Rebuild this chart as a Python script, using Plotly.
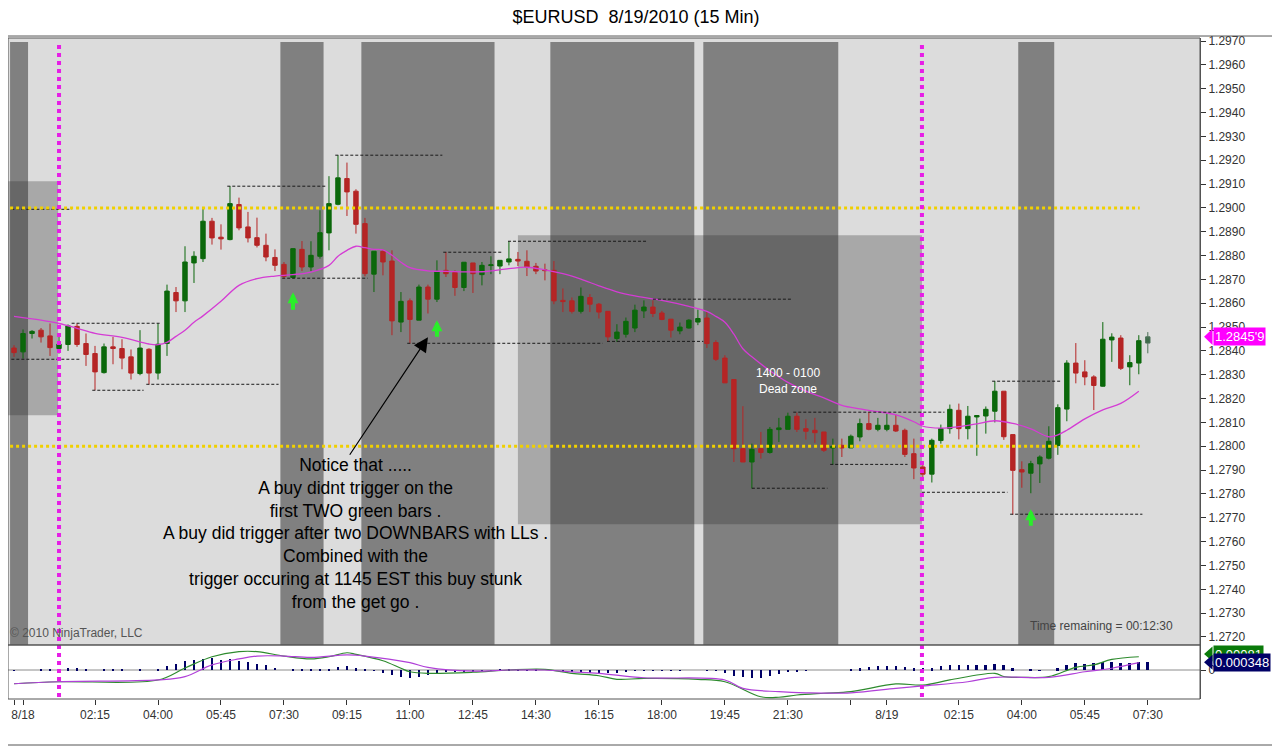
import plotly.graph_objects as go

FONT = "Liberation Sans, Arial, sans-serif"

# 15 min bars, 8/18 00:00 -> 8/19 07:30
opens = [1.28412, 1.28396, 1.28473, 1.28487, 1.28463, 1.28410, 1.28427, 1.28503, 1.28431, 1.28389,
         1.28309, 1.28417, 1.28410, 1.28375, 1.28305, 1.28407, 1.28307, 1.28431, 1.28645, 1.28610,
         1.28769, 1.28787, 1.28944, 1.28877, 1.28867, 1.29014, 1.28920, 1.28875, 1.28843, 1.28792,
         1.28763, 1.28708, 1.28826, 1.28752, 1.28797, 1.28895, 1.29015, 1.29123, 1.29070, 1.28934,
         1.28722, 1.28818, 1.28777, 1.28521, 1.28610, 1.28529, 1.28668, 1.28617, 1.28738, 1.28729,
         1.28666, 1.28769, 1.28720, 1.28758, 1.28756, 1.28773, 1.28784, 1.28776, 1.28755, 1.28740,
         1.28738, 1.28612, 1.28610, 1.28566, 1.28624, 1.28596, 1.28566, 1.28452, 1.28470, 1.28496,
         1.28568, 1.28584, 1.28559, 1.28533, 1.28484, 1.28496, 1.28521, 1.28538, 1.28435, 1.28370,
         1.28280, 1.27990, 1.27934, 1.27990, 1.27974, 1.28070, 1.28071, 1.28126, 1.28074, 1.28067,
         1.28060, 1.27993, 1.28004, 1.27993, 1.28039, 1.28095, 1.28071, 1.28071, 1.28088, 1.28067,
         1.27969, 1.27913, 1.27883, 1.28024, 1.28074, 1.28151, 1.28074, 1.28123, 1.28127, 1.28147,
         1.28231, 1.28049, 1.27902, 1.27887, 1.27926, 1.27950, 1.28003, 1.28156, 1.28349, 1.28312,
         1.28291, 1.28252, 1.28446, 1.28454, 1.28333, 1.28349, 1.28433]
highs = [1.28424, 1.28490, 1.28487, 1.28496, 1.28515, 1.28459, 1.28511, 1.28515, 1.28473, 1.28421,
         1.28431, 1.28459, 1.28449, 1.28406, 1.28487, 1.28411, 1.28515, 1.28678, 1.28668, 1.28839,
         1.28818, 1.29004, 1.28958, 1.28931, 1.29091, 1.29043, 1.28983, 1.28959, 1.28892, 1.28826,
         1.28773, 1.28831, 1.28861, 1.28860, 1.28990, 1.29133, 1.29221, 1.29190, 1.29078, 1.28958,
         1.28818, 1.28825, 1.28822, 1.28647, 1.28620, 1.28678, 1.28678, 1.28780, 1.28815, 1.28738,
         1.28772, 1.28769, 1.28773, 1.28797, 1.28780, 1.28860, 1.28815, 1.28822, 1.28769, 1.28766,
         1.28777, 1.28662, 1.28624, 1.28666, 1.28638, 1.28601, 1.28566, 1.28512, 1.28540, 1.28594,
         1.28612, 1.28612, 1.28568, 1.28533, 1.28519, 1.28533, 1.28573, 1.28563, 1.28445, 1.28382,
         1.28280, 1.28168, 1.28011, 1.28060, 1.28081, 1.28119, 1.28141, 1.28141, 1.28113, 1.28119,
         1.28060, 1.28032, 1.28032, 1.28049, 1.28116, 1.28144, 1.28119, 1.28137, 1.28133, 1.28074,
         1.28032, 1.27933, 1.28032, 1.28091, 1.28175, 1.28179, 1.28169, 1.28130, 1.28167, 1.28273,
         1.28231, 1.28049, 1.27937, 1.27939, 1.27962, 1.28084, 1.28176, 1.28361, 1.28433, 1.28361,
         1.28298, 1.28521, 1.28474, 1.28466, 1.28382, 1.28466, 1.28479]
lows = [1.28375, 1.28368, 1.28452, 1.28435, 1.28379, 1.28389, 1.28400, 1.28417, 1.28337, 1.28235,
        1.28305, 1.28344, 1.28323, 1.28280, 1.28298, 1.28259, 1.28280, 1.28379, 1.28563, 1.28563,
        1.28685, 1.28773, 1.28846, 1.28825, 1.28864, 1.28906, 1.28855, 1.28834, 1.28776, 1.28735,
        1.28704, 1.28704, 1.28735, 1.28735, 1.28787, 1.28822, 1.29011, 1.28966, 1.28892, 1.28713,
        1.28647, 1.28717, 1.28466, 1.28479, 1.28431, 1.28529, 1.28557, 1.28605, 1.28710, 1.28631,
        1.28651, 1.28643, 1.28675, 1.28722, 1.28722, 1.28759, 1.28756, 1.28714, 1.28722, 1.28696,
        1.28596, 1.28563, 1.28557, 1.28557, 1.28563, 1.28536, 1.28438, 1.28438, 1.28456, 1.28479,
        1.28538, 1.28542, 1.28529, 1.28456, 1.28470, 1.28494, 1.28508, 1.28412, 1.28358, 1.28266,
        1.27934, 1.27934, 1.27823, 1.27948, 1.27969, 1.28018, 1.28071, 1.28060, 1.28028, 1.28014,
        1.27976, 1.27923, 1.27955, 1.27993, 1.28021, 1.28067, 1.28063, 1.28063, 1.28060, 1.27955,
        1.27862, 1.27857, 1.27848, 1.28011, 1.28053, 1.28029, 1.28029, 1.27960, 1.28053, 1.28100,
        1.28027, 1.27713, 1.27826, 1.27803, 1.27846, 1.27945, 1.27964, 1.28105, 1.28264, 1.28256,
        1.28152, 1.28250, 1.28354, 1.28320, 1.28256, 1.28302, 1.28390]
closes = [1.28393, 1.28473, 1.28482, 1.28459, 1.28414, 1.28428, 1.28505, 1.28427, 1.28385, 1.28312,
          1.28417, 1.28410, 1.28370, 1.28307, 1.28412, 1.28307, 1.28428, 1.28651, 1.28610, 1.28773,
          1.28797, 1.28944, 1.28874, 1.28870, 1.29018, 1.28916, 1.28874, 1.28843, 1.28794, 1.28759,
          1.28713, 1.28829, 1.28752, 1.28801, 1.28896, 1.29018, 1.29126, 1.29067, 1.28931, 1.28724,
          1.28818, 1.28773, 1.28526, 1.28608, 1.28532, 1.28668, 1.28617, 1.28734, 1.28724, 1.28666,
          1.28772, 1.28724, 1.28759, 1.28761, 1.28780, 1.28786, 1.28777, 1.28752, 1.28735, 1.28737,
          1.28610, 1.28607, 1.28566, 1.28629, 1.28596, 1.28563, 1.28459, 1.28479, 1.28524, 1.28571,
          1.28584, 1.28557, 1.28532, 1.28487, 1.28500, 1.28529, 1.28536, 1.28431, 1.28365, 1.28266,
          1.27990, 1.27934, 1.27987, 1.27974, 1.28071, 1.28077, 1.28126, 1.28071, 1.28063, 1.28057,
          1.27983, 1.28000, 1.27993, 1.28042, 1.28095, 1.28071, 1.28088, 1.28088, 1.28064, 1.27966,
          1.27909, 1.27883, 1.28025, 1.28074, 1.28155, 1.28074, 1.28126, 1.28129, 1.28155, 1.28231,
          1.28040, 1.27899, 1.27892, 1.27927, 1.27955, 1.28021, 1.28162, 1.28349, 1.28307, 1.28291,
          1.28255, 1.28449, 1.28458, 1.28327, 1.28351, 1.28443, 1.28459]
bars = list(range(len(closes)))

# moving average
ema_bar = [0, 3, 5, 7, 9, 12, 15, 16, 17, 18, 19, 20, 21, 23, 25, 27, 29, 31, 33, 35, 36, 37, 38, 39, 40,
           41, 42, 43, 44, 46, 48, 52, 55, 57, 59, 61, 63, 65, 67, 69, 72, 75, 77, 78, 79, 80, 81, 82, 84,
           86, 88, 90, 92, 94, 96, 98, 100, 101, 103, 105, 107, 109, 111, 113, 115, 116, 117, 119, 121,
           123, 125]
ema_val = [1.28545, 1.28529, 1.28515, 1.28495, 1.28474, 1.28457, 1.28429, 1.28426, 1.28436, 1.28461,
           1.28487, 1.28520, 1.28547, 1.28608, 1.28675, 1.28703, 1.28714, 1.28720, 1.28731, 1.28759,
           1.28797, 1.28822, 1.28839, 1.28833, 1.28826, 1.28824, 1.28801, 1.28772, 1.28749, 1.28736,
           1.28734, 1.28732, 1.28745, 1.28751, 1.28740, 1.28724, 1.28701, 1.28673, 1.28648, 1.28631,
           1.28612, 1.28587, 1.28566, 1.28545, 1.28520, 1.28470, 1.28409, 1.28375, 1.28317, 1.28268,
           1.28231, 1.28203, 1.28172, 1.28157, 1.28145, 1.28132, 1.28103, 1.28084, 1.28076, 1.28082,
           1.28094, 1.28107, 1.28096, 1.28073, 1.28040, 1.28048, 1.28067, 1.28115, 1.28153, 1.28180,
           1.28231]

# MACD panel
macd_bar = [0, 5, 16, 19, 22, 25, 27, 30, 33, 35, 37, 38, 41, 43, 44, 46, 51, 55, 59, 62, 65, 67, 70, 76,
            79, 83, 85, 87, 90, 93, 98, 101, 104, 109, 110, 112, 115, 118, 120, 122, 125]
macd_val = [-0.00062, -0.00053, -0.00045, 0.00009, 0.00060, 0.00083, 0.00083, 0.00063, 0.00050, 0.00060,
            0.00078, 0.00071, 0.00042, 0.00008, -0.00008, -0.00015, -0.00010, 0.00000, 0.00003, -0.00015,
            -0.00026, -0.00042, -0.00038, -0.00042, -0.00053, -0.00121, -0.00123, -0.00113, -0.00105,
            -0.00098, -0.00063, -0.00068, -0.00045, -0.00015, -0.00030, -0.00033, -0.00030, 0.00012,
            0.00023, 0.00048, 0.00060]
sig_bar = [0, 5, 16, 19, 22, 25, 27, 30, 33, 37, 39, 44, 46, 51, 55, 59, 62, 65, 70, 79, 81, 85, 88, 93,
           98, 101, 106, 109, 115, 119, 122, 125]
sig_val = [-0.00062, -0.00053, -0.00045, -0.00030, 0.00023, 0.00050, 0.00063, 0.00063, 0.00057, 0.00068,
           0.00063, 0.00033, 0.00012, -0.00005, 0.00000, 0.00000, -0.00008, -0.00015, -0.00035, -0.00045,
           -0.00083, -0.00098, -0.00103, -0.00103, -0.00083, -0.00072, -0.00053, -0.00033, -0.00033,
           -0.00008, 0.00008, 0.00033]
hist_val = [-0.00003, 0.00000, 0.00000, 0.00001, 0.00001, 0.00005, 0.00008, 0.00008, 0.00005, 0.00000,
            0.00001, 0.00001, 0.00001, 0.00000, 0.00001, 0.00000, 0.00005, 0.00019, 0.00029, 0.00039,
            0.00044, 0.00051, 0.00054, 0.00047, 0.00051, 0.00039, 0.00036, 0.00029, 0.00021, 0.00010,
            0.00000, 0.00002, 0.00002, 0.00003, 0.00003, 0.00005, 0.00014, 0.00017, 0.00009, 0.00003,
            -0.00001, -0.00014, -0.00024, -0.00032, -0.00036, -0.00032, -0.00021, -0.00017, -0.00010, -0.00008,
            -0.00006, -0.00005, -0.00003, -0.00001, 0.00001, 0.00001, 0.00001, 0.00001, 0.00001, 0.00000,
            0.00000, -0.00008, -0.00010, -0.00010, -0.00014, -0.00014, -0.00014, -0.00014, -0.00010, -0.00001,
            -0.00001, -0.00001, -0.00001, -0.00001, -0.00001, 0.00000, 0.00000, -0.00001, -0.00001, -0.00014,
            -0.00029, -0.00033, -0.00038, -0.00035, -0.00026, -0.00017, -0.00010, -0.00006, -0.00001, 0.00000,
            0.00000, 0.00000, 0.00000, 0.00005, 0.00009, 0.00014, 0.00017, 0.00019, 0.00017, 0.00014,
            0.00009, 0.00008, 0.00009, 0.00017, 0.00023, 0.00023, 0.00023, 0.00023, 0.00023, 0.00027,
            0.00023, 0.00009, 0.00000, 0.00001, -0.00001, 0.00000, 0.00009, 0.00024, 0.00032, 0.00029,
            0.00032, 0.00038, 0.00035, 0.00032, 0.00032, 0.00035, 0.00035]

# time axis
tick_bars = [0, 1, 9, 16, 23, 30, 37, 44, 51, 58, 65, 72, 79, 86, 93, 97, 105, 112, 119, 126]
tick_text = ["", "8/18", "02:15", "04:00", "05:45", "07:30", "09:15", "11:00", "12:45", "14:30",
             "16:15", "18:00", "19:45", "21:30", "", "8/19", "02:15", "04:00", "05:45", "07:30"]

# drawing objects
band_from = [-0.44, 29.6, 38.6, 59.6, 76.6, 111.6]
band_to = [1.56, 34.4, 53.4, 75.6, 91.6, 115.6]
zone_x0 = [56.0, -0.67]
zone_x1 = [100.9, 4.9]
zone_lo = [1.27673, 1.28130]
zone_hi = [1.28885, 1.29112]
dash_level = [1.28365, 1.28994, 1.28516, 1.28235, 1.28260, 1.29091, 1.28705, 1.29221, 1.28432, 1.28814,
              1.28860, 1.28617, 1.28440, 1.27824, 1.28143, 1.27924, 1.27807, 1.28273, 1.27715]
dash_from = [-0.3, -0.3, 6.4, 8.7, 14.7, 23.7, 29.8, 35.7, 43.7, 47.7, 54.9, 71.0, 65.9, 82.0, 86.6, 90.7,
             100.9, 108.7, 110.7]
dash_to = [7.4, 6.4, 16.4, 14.4, 29.4, 34.6, 39.3, 47.6, 65.4, 54.3, 70.4, 86.4, 76.6, 90.4, 103.4, 99.3,
           110.4, 116.4, 125.4]
key_levels = [1.2900, 1.2800]
session_bars = [5.0, 100.9]
arrow_bars = [31, 47, 113]
arrow_tip = [1.28646, 1.28529, 1.27736]
arrow_tail = [1.28566, 1.28453, 1.27660]

GREEN = "#0b680b"
RED = "#b52525"

fig = go.Figure()

fig.add_trace(go.Candlestick(
    x=bars[:-1], open=opens[:-1], high=highs[:-1], low=lows[:-1], close=closes[:-1],
    increasing=dict(line=dict(color=GREEN, width=1), fillcolor=GREEN),
    decreasing=dict(line=dict(color=RED, width=1), fillcolor=RED),
    whiskerwidth=0, showlegend=False, hoverinfo="skip"))
fig.add_trace(go.Candlestick(
    x=bars[-1:], open=opens[-1:], high=highs[-1:], low=lows[-1:], close=closes[-1:],
    increasing=dict(line=dict(color="#4d7258", width=1), fillcolor="#3d6b48"),
    decreasing=dict(line=dict(color="#4d7258", width=1), fillcolor="#3d6b48"),
    whiskerwidth=0, showlegend=False, hoverinfo="skip"))
fig.add_trace(go.Scatter(x=ema_bar, y=ema_val, mode="lines", line=dict(color="#d43cd4", width=1.3, shape="spline"),
                         showlegend=False, hoverinfo="skip"))

# indicator
fig.add_trace(go.Bar(x=bars, y=hist_val, width=0.3, marker=dict(color="#000066", line=dict(width=0)),
                     yaxis="y2", showlegend=False, hoverinfo="skip"))
fig.add_trace(go.Scatter(x=macd_bar, y=macd_val, mode="lines", line=dict(color="#2e8b2e", width=1.2, shape="spline"),
                         yaxis="y2", showlegend=False, hoverinfo="skip"))
fig.add_trace(go.Scatter(x=sig_bar, y=sig_val, mode="lines", line=dict(color="#b040d8", width=1.2, shape="spline"),
                         yaxis="y2", showlegend=False, hoverinfo="skip"))

shapes = []
shapes.append(dict(type="rect", xref="x domain", yref="y domain", x0=0, x1=1, y0=0, y1=1,
                   fillcolor="#dcdcdc", line=dict(width=0), layer="below"))
for a, b in zip(band_from, band_to):
    shapes.append(dict(type="rect", xref="x", yref="y domain", x0=a, x1=b, y0=0, y1=0.9934,
                       fillcolor="#808080", line=dict(width=0), layer="below"))
for a, b, lo, hi in zip(zone_x0, zone_x1, zone_lo, zone_hi):
    shapes.append(dict(type="rect", xref="x", yref="y", x0=a, x1=b, y0=lo, y1=hi,
                       fillcolor="rgba(40,40,40,0.29)", line=dict(width=0), layer="below"))
shapes.append(dict(type="line", xref="x domain", yref="y2", x0=0, x1=1, y0=0, y1=0,
                   line=dict(color="#8c8c8c", width=1), layer="below"))
for lvl, a, b in zip(dash_level, dash_from, dash_to):
    shapes.append(dict(type="line", xref="x", yref="y", x0=a, x1=b, y0=lvl, y1=lvl,
                       line=dict(color="#1a1a1a", width=1, dash="3px,2px")))
for lvl in key_levels:
    shapes.append(dict(type="line", xref="x", yref="y", x0=-0.44, x1=125.1, y0=lvl, y1=lvl,
                       line=dict(color="#f0d000", width=3, dash="dot")))
for b in session_bars:
    shapes.append(dict(type="line", xref="x", yref="paper", x0=b, x1=b, y0=0.003, y1=0.994,
                       line=dict(color="#e61ee6", width=4, dash="dot")))
# panel frames
shapes.append(dict(type="rect", xref="x domain", yref="y domain", x0=0, x1=1, y0=0, y1=1,
                   line=dict(color="#555", width=1)))
shapes.append(dict(type="rect", xref="x domain", yref="y2 domain", x0=0, x1=1, y0=0, y1=1,
                   line=dict(color="#555", width=1)))
shapes.append(dict(type="rect", xref="paper", yref="paper", x0=-0.0042, x1=1.0646, y0=-0.0696, y1=1.003,
                   line=dict(color="#555", width=1)))
# price tag pointers
shapes.append(dict(type="path", xref="paper", yref="y",
                   path="M 1.0034 1.28459 L 1.0105 1.28493 L 1.0105 1.28425 Z",
                   fillcolor="#ff00ff", line=dict(width=0)))
shapes.append(dict(type="path", xref="paper", yref="y2",
                   path="M 1.0034 0.00072 L 1.0105 0.00106 L 1.0105 0.00038 Z",
                   fillcolor="#0a7a0a", line=dict(width=0)))
shapes.append(dict(type="path", xref="paper", yref="y2",
                   path="M 1.0034 0.000348 L 1.0105 0.000688 L 1.0105 0.000008 Z",
                   fillcolor="#000066", line=dict(width=0)))

annotations = []
for b, tip, tail in zip(arrow_bars, arrow_tip, arrow_tail):
    annotations.append(dict(x=b, y=tip, ax=b, ay=tail, xref="x", yref="y", axref="x", ayref="y",
                            text="", showarrow=True, arrowhead=2, arrowsize=0.55, arrowwidth=4,
                            arrowcolor="#2aee2a", standoff=0))
annotations.append(dict(x=46.0, y=1.28457, ax=37.2, ay=1.27958, xref="x", yref="y", axref="x", ayref="y",
                        text="", showarrow=True, arrowhead=2, arrowsize=2.4, arrowwidth=1.2,
                        arrowcolor="#000000", standoff=0))
annotations.append(dict(x=38.0, y=1.27635, xref="x", yref="y", showarrow=False, align="center",
                        yanchor="middle",
                        text="Notice that .....<br>A buy didnt trigger on the<br>first TWO green bars .<br>"
                             "A buy did trigger after two DOWNBARS with LLs .<br>Combined with the<br>"
                             "trigger occuring at 1145 EST this buy stunk<br>from the get go .",
                        font=dict(family=FONT, size=17.5, color="#000000")))
annotations.append(dict(x=86.0, y=1.28273, xref="x", yref="y", showarrow=False, align="center",
                        text="1400 - 0100<br>Dead zone", font=dict(family=FONT, size=12, color="#ffffff")))
annotations.append(dict(x=0.0, y=0.0998, xref="paper", yref="paper", showarrow=False, xanchor="left",
                        yanchor="middle",
                        text="© 2010 NinjaTrader, LLC", font=dict(family=FONT, size=12, color="#555555")))
annotations.append(dict(x=0.979, y=0.1104, xref="paper", yref="paper", showarrow=False, xanchor="right",
                        yanchor="middle",
                        text="Time remaining = 00:12:30", font=dict(family=FONT, size=12, color="#444444")))
annotations.append(dict(x=1.0105, y=closes[-1], xref="paper", yref="y", showarrow=False, xanchor="left",
                        yanchor="middle", text="1.2845'9", bgcolor="#ff00ff", borderpad=1,
                        font=dict(family=FONT, size=13, color="#ffffff")))
annotations.append(dict(x=1.0105, y=0.00072, xref="paper", yref="y2", showarrow=False, xanchor="left",
                        yanchor="middle", text="0.00081", bgcolor="#0a7a0a", borderpad=1,
                        font=dict(family=FONT, size=13, color="#ffffff")))
annotations.append(dict(x=1.0105, y=hist_val[-1], xref="paper", yref="y2", showarrow=False, xanchor="left",
                        yanchor="middle", text="0.000348", bgcolor="#000066", borderpad=1,
                        font=dict(family=FONT, size=13, color="#ffffff")))

# the page adds an 8px body margin, so the figure is laid out 8px up/left
fig.update_layout(
    width=1280, height=751,
    margin=dict(l=0, r=88, t=30, b=60),
    paper_bgcolor="white", plot_bgcolor="white",
    font=dict(family=FONT, size=12, color="#333"),
    title=dict(text="$EURUSD\u00a0\u00a08/19/2010 (15 Min)", x=0.4906, y=0.988, xanchor="center",
               yanchor="middle", font=dict(family=FONT, size=18, color="#000")),
    xaxis=dict(domain=[0, 1], range=[-0.67, 131.8], anchor="y2", rangeslider=dict(visible=False),
               tickmode="array", tickvals=tick_bars, ticktext=tick_text, ticks="outside", ticklen=5,
               tickcolor="#333", showgrid=False, zeroline=False, showline=False,
               tickfont=dict(family=FONT, size=12, color="#333")),
    yaxis=dict(domain=[0.0817, 1], range=[1.271664, 1.297126], anchor="x", side="right",
               tick0=1.2720, dtick=0.001, tickformat=".4f", ticks="outside", ticklen=5, tickcolor="#333",
               showgrid=False, zeroline=False, showline=True, linecolor="#555",
               tickfont=dict(family=FONT, size=12, color="#333")),
    yaxis2=dict(domain=[0, 0.0817], range=[-0.00131, 0.00113], anchor="x", side="right",
                tickmode="array", tickvals=[0], ticktext=["0"], ticks="outside", ticklen=5, tickcolor="#333",
                showgrid=False, zeroline=False, showline=True, linecolor="#555",
                tickfont=dict(family=FONT, size=12, color="#333")),
    bargap=0,
    shapes=shapes,
    annotations=annotations,
)

fig.write_html("out.html")
